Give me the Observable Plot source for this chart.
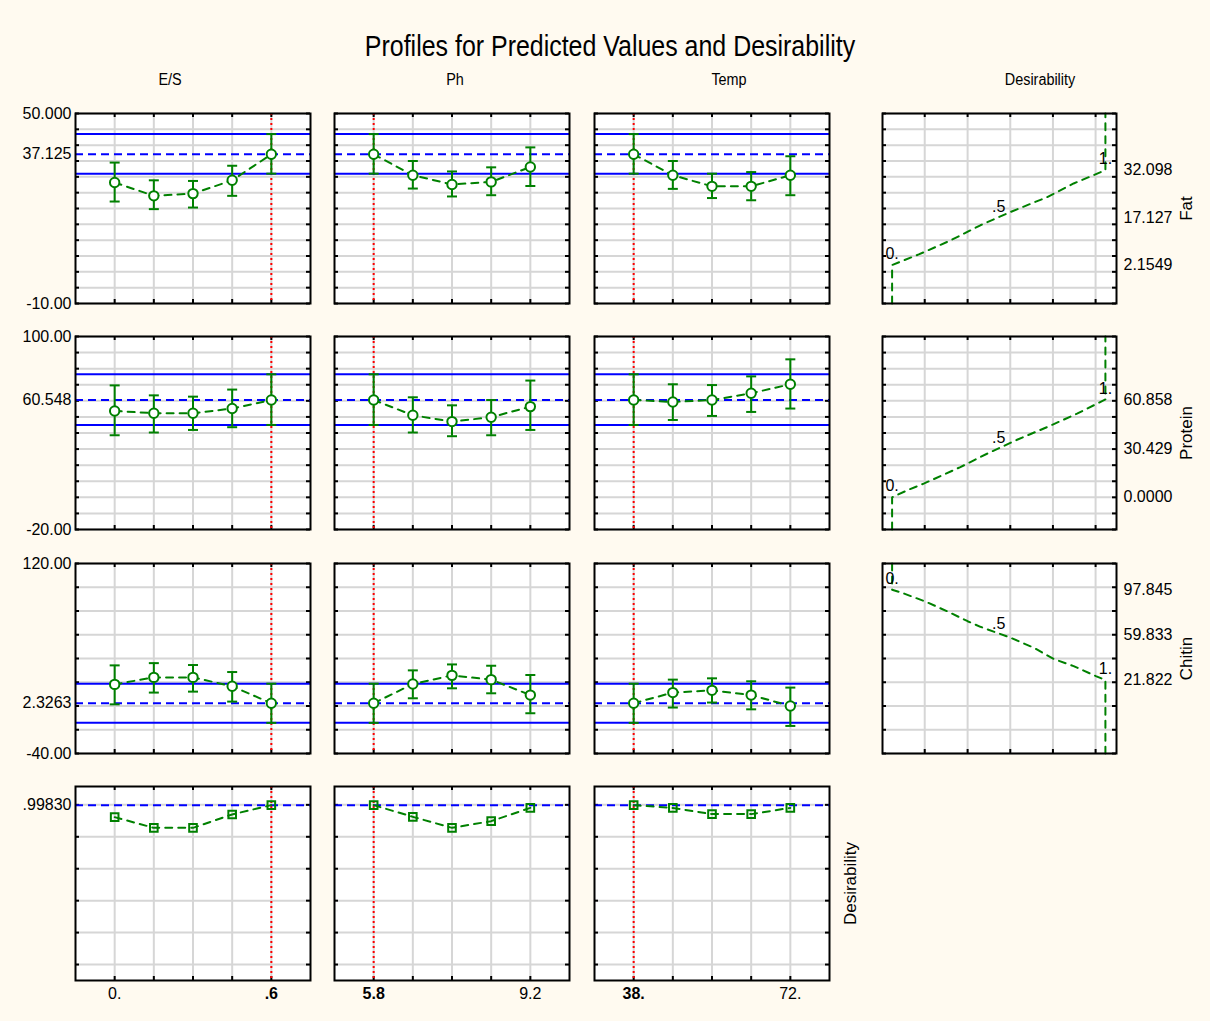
<!DOCTYPE html>
<html>
<head>
<meta charset="utf-8">
<script src="https://cdn.jsdelivr.net/npm/d3@7"></script>
<script src="https://cdn.jsdelivr.net/npm/@observablehq/plot@0.6"></script>
<style>
  body { margin: 0; background: #fffaf0; }
  #root { position: relative; width: 1210px; height: 1021px; background: #fffaf0; overflow: hidden;
          font-family: "Liberation Sans", Arial, sans-serif; color: #000; }
  .lbl { position: absolute; white-space: nowrap; line-height: 1; }
  .cell { position: absolute; }
  .cell svg { overflow: visible; }
</style>
</head>
<body>
<div id="root"></div>
<script>
// ---------------- DATA ----------------
const titleText = "Profiles for Predicted Values and Desirability";
const factorNames = ["E/S", "Ph", "Temp"];
const responseNames = ["Fat", "Protein", "Chitin"];

const esLevels = [0, 0.15, 0.3, 0.45, 0.6];
const phLevels = [5.8, 6.65, 7.5, 8.35, 9.2];
const tempLevels = [38, 46.5, 55, 63.5, 72];
const currentSettings = [0.6, 5.8, 38];
const xEndLabels = [["0.", ".6"], ["5.8", "9.2"], ["38.", "72."]];

// predicted values with confidence limits, one row per factor (E/S, Ph, Temp)
const fatPred = [[28.2, 24.0, 24.7, 28.9, 37.125], [37.125, 30.5, 27.6, 28.4, 33.1], [37.125, 30.5, 27.0, 27.0, 30.5]];
const fatLow  = [[22.2, 19.8, 20.3, 24.0, 31.0], [31.0, 26.3, 23.8, 24.2, 27.1], [31.0, 26.2, 23.3, 22.6, 24.2]];
const fatHigh = [[34.5, 28.9, 28.7, 33.5, 43.5], [43.5, 35.0, 31.7, 33.0, 39.3], [43.5, 35.0, 31.0, 31.5, 36.5]];

const proteinPred = [[53.7, 52.3, 52.3, 55.2, 60.548], [60.548, 51.0, 47.1, 49.8, 56.4], [60.548, 59.3, 60.5, 64.7, 70.3]];
const proteinLow  = [[38.6, 40.3, 41.9, 43.6, 45.0], [45.0, 40.3, 38.0, 38.6, 41.9], [45.0, 48.1, 50.6, 53.1, 55.2]];
const proteinHigh = [[69.6, 63.4, 62.6, 67.0, 76.5], [76.5, 62.2, 57.2, 60.5, 72.6], [76.5, 70.3, 69.8, 75.2, 85.8]];

const chitinPred = [[18.2, 24.1, 24.1, 16.6, 2.3263], [2.3263, 18.5, 25.8, 22.2, 9.2], [2.3263, 11.3, 13.2, 9.2, 0.0]];
const chitinLow  = [[1.4, 11.3, 12.1, 3.7, -14.2], [-14.2, 6.5, 14.9, 10.7, -6.1], [-14.2, -1.3, 2.9, -2.8, -16.8]];
const chitinHigh = [[34.2, 36.1, 34.5, 28.6, 18.8], [18.8, 30.0, 35.0, 33.9, 26.1], [18.8, 22.2, 23.3, 20.8, 15.5]];

const currentPred = [37.125, 60.548, 2.3263];
const currentLow = [31.0, 45.0, -14.2];
const currentHigh = [43.5, 76.5, 18.8];
const predTickLabels = ["37.125", "60.548", "2.3263"];
const yDomains = [[-10, 50], [-20, 100], [-40, 120]];
const yGridSteps = [5, 10, 20];
const yMaxLabels = ["50.000", "100.00", "120.00"];
const yMinLabels = ["-10.00", "-20.00", "-40.00"];

// overall desirability profiles
const desES = [0.923, 0.856, 0.856, 0.940, 0.9983];
const desPh = [0.9983, 0.925, 0.856, 0.898, 0.981];
const desTemp = [0.9983, 0.981, 0.942, 0.942, 0.981];
const desCurrent = 0.9983;
const desCurrentLabel = ".99830";
const desDomain = [-0.1, 1.115];
const desGrid = [0, 0.2, 0.4, 0.6, 0.8, 1.0];

// desirability functions (x = desirability, y = response)
const fatCurveD = [0, 0, 0.125, 0.273, 0.414, 0.555, 0.727, 0.851, 1, 1];
const fatCurveY = [-10, 2.1549, 5.5, 9.9, 14.7, 18.9, 23.6, 27.9, 32.098, 50];
const proteinCurveD = [0, 0, 0.078, 0.148, 0.32, 0.445, 0.586, 0.727, 0.867, 1, 1];
const proteinCurveY = [-20, 0.0, 4.8, 8.5, 18.8, 27.1, 35.8, 43.7, 52.0, 60.858, 100];
const chitinCurveD = [0, 0, 0.039, 0.153, 0.258, 0.354, 0.414, 0.555, 0.664, 0.755, 0.851, 0.955, 1, 1];
const chitinCurveY = [120, 97.845, 95.8, 88.2, 79.8, 71.4, 66.7, 57.5, 49.1, 39.8, 33.6, 25.2, 21.822, -40];

const fatDesY = [2.1549, 17.127, 32.098];
const proteinDesY = [0.0, 30.429, 60.858];
const chitinDesY = [97.845, 59.833, 21.822];
const desRightLabels = [["2.1549", "17.127", "32.098"], ["0.0000", "30.429", "60.858"], ["97.845", "59.833", "21.822"]];
const desLabelD = [0, 0.5, 1];
const desLabelText = ["0.", ".5", "1."];
const desXDomain = [-0.045, 1.052];
const desXGrid = [0.153, 0.354, 0.554, 0.754, 0.954];

// ---------------- LAYOUT ----------------
const FONT = '"Liberation Sans", Arial, sans-serif';
const GREEN = "#008000", BLUE = "#0000ff", RED = "#ff0000", GRID = "#d6d6d6";
const colX = [75, 334, 594, 882];
const colW = [235, 235, 235, 234];
const rowY = [113, 336, 563, 786];
const rowH = [190, 193, 190, 194];
const ML = 90, MR = 110, MT = 20, MB = 40;

const root = document.getElementById("root");
const levels = [esLevels, phLevels, tempLevels];
const preds = [fatPred, proteinPred, chitinPred];
const lows = [fatLow, proteinLow, chitinLow];
const highs = [fatHigh, proteinHigh, chitinHigh];
const desProfiles = [desES, desPh, desTemp];
const curvesD = [fatCurveD, proteinCurveD, chitinCurveD];
const curvesY = [fatCurveY, proteinCurveY, chitinCurveY];
const desYs = [fatDesY, proteinDesY, chitinDesY];

const capSymbol = { draw(ctx) { ctx.moveTo(-5, 0); ctx.lineTo(5, 0); } };

function xDomainOf(lv) {
  const step = lv[1] - lv[0];
  return [lv[0] - step, lv[lv.length - 1] + step];
}

function addLabel(text, x, y, size, scale = 1, weight = "normal") {
  const d = document.createElement("div");
  d.className = "lbl";
  d.textContent = text;
  d.style.left = x + "px";
  d.style.top = y + "px";
  d.style.fontSize = size + "px";
  d.style.fontWeight = weight;
  d.style.transform = `translate(-50%,-50%) scaleX(${scale})`;
  root.appendChild(d);
}

function place(svg, c, r) {
  const d = document.createElement("div");
  d.className = "cell";
  d.style.left = (colX[c] - ML) + "px";
  d.style.top = (rowY[r] - MT) + "px";
  d.style.width = (colW[c] + ML + MR) + "px";
  d.style.height = (rowH[r] + MT + MB) + "px";
  d.appendChild(svg);
  root.appendChild(d);
}

function base(c, r, xDomain, yDomain, marks) {
  return Plot.plot({
    width: colW[c] + ML + MR,
    height: rowH[r] + MT + MB,
    marginLeft: ML, marginRight: MR, marginTop: MT, marginBottom: MB,
    x: { type: "linear", domain: xDomain, axis: null },
    y: { type: "linear", domain: yDomain, axis: null },
    style: { background: "transparent", overflow: "visible", fontFamily: FONT, color: "black" },
    marks
  });
}

function gridMarks(c, r, xGrid, yGrid) {
  const w = colW[c], h = rowH[r];
  return [
    Plot.frame({ fill: "white", stroke: "none" }),
    Plot.ruleX(xGrid, { stroke: GRID, strokeWidth: 2 }),
    Plot.ruleY(yGrid, { stroke: GRID, strokeWidth: 2 }),
    Plot.tickY(yGrid, { stroke: "black", strokeWidth: 2, insetRight: w - 4 }),
    Plot.tickY(yGrid, { stroke: "black", strokeWidth: 2, insetLeft: w - 4 }),
    Plot.tickX(xGrid, { stroke: "black", strokeWidth: 2, insetBottom: h - 4 }),
    Plot.tickX(xGrid, { stroke: "black", strokeWidth: 2, insetTop: h - 4 })
  ];
}

// ---------------- RESPONSE PROFILE PANELS ----------------
for (let r = 0; r < 3; r++) {
  const yGrid = d3.range(yDomains[r][0], yDomains[r][1] + 1e-9, yGridSteps[r]);
  for (let c = 0; c < 3; c++) {
    const lv = levels[c];
    const data = lv.map((x, i) => ({ x, y: preds[r][c][i], lo: lows[r][c][i], hi: highs[r][c][i] }));
    const marks = [
      ...gridMarks(c, r, lv, yGrid),
      Plot.ruleX([currentSettings[c]], { stroke: RED, strokeWidth: 2, strokeDasharray: "2,3" }),
      Plot.ruleY([currentLow[r], currentHigh[r]], { stroke: BLUE, strokeWidth: 2 }),
      Plot.ruleY([currentPred[r]], { stroke: BLUE, strokeWidth: 2, strokeDasharray: "8,5" }),
      Plot.line(data, { x: "x", y: "y", stroke: GREEN, strokeWidth: 2, strokeDasharray: "7,6" }),
      Plot.ruleX(data, { x: "x", y1: "lo", y2: "hi", stroke: GREEN, strokeWidth: 2 }),
      Plot.dot(data, { x: "x", y: "lo", symbol: capSymbol, stroke: GREEN, strokeWidth: 2, fill: "none" }),
      Plot.dot(data, { x: "x", y: "hi", symbol: capSymbol, stroke: GREEN, strokeWidth: 2, fill: "none" }),
      Plot.dot(data, { x: "x", y: "y", r: 4.7, stroke: GREEN, strokeWidth: 2, fill: "white" }),
      Plot.frame({ stroke: "black", strokeWidth: 2 })
    ];
    if (c === 0) {
      marks.push(Plot.text([yMaxLabels[r], predTickLabels[r], yMinLabels[r]], {
        y: [yDomains[r][1], currentPred[r], yDomains[r][0]], text: d => d,
        frameAnchor: "left", dx: -4, textAnchor: "end", fontSize: 16, fill: "black"
      }));
    }
    place(base(c, r, xDomainOf(lv), yDomains[r], marks), c, r);
  }

  // desirability function panel
  const c = 3;
  const curve = curvesD[r].map((d, i) => ({ d, y: curvesY[r][i] }));
  const marks = [
    ...gridMarks(c, r, desXGrid, yGrid),
    Plot.line(curve, { x: "d", y: "y", stroke: GREEN, strokeWidth: 2, strokeDasharray: "7,6" }),
    Plot.frame({ stroke: "black", strokeWidth: 2 }),
    Plot.text(desLabelText, { x: desLabelD, y: desYs[r], text: d => d, dy: -11, fontSize: 16, fill: "black" }),
    Plot.text(desRightLabels[r], { y: desYs[r], text: d => d, frameAnchor: "right", dx: 7, textAnchor: "start", fontSize: 16, fill: "black" }),
    Plot.text([responseNames[r]], { text: d => d, frameAnchor: "right", dx: 70, rotate: -90, textAnchor: "middle", fontSize: 17, fill: "black" })
  ];
  place(base(c, r, desXDomain, yDomains[r], marks), c, r);
}

// ---------------- OVERALL DESIRABILITY ROW ----------------
for (let c = 0; c < 3; c++) {
  const r = 3;
  const lv = levels[c];
  const data = lv.map((x, i) => ({ x, y: desProfiles[c][i] }));
  const marks = [
    ...gridMarks(c, r, lv, desGrid),
    Plot.ruleX([currentSettings[c]], { stroke: RED, strokeWidth: 2, strokeDasharray: "2,3" }),
    Plot.ruleY([desCurrent], { stroke: BLUE, strokeWidth: 2, strokeDasharray: "8,5" }),
    Plot.line(data, { x: "x", y: "y", stroke: GREEN, strokeWidth: 2, strokeDasharray: "7,6" }),
    Plot.dot(data, { x: "x", y: "y", symbol: "square", r: 4.3, stroke: GREEN, strokeWidth: 2, fill: "none" }),
    Plot.frame({ stroke: "black", strokeWidth: 2 })
  ];
  const ends = [lv[0], lv[lv.length - 1]];
  ends.forEach((v, i) => {
    marks.push(Plot.text([xEndLabels[c][i]], {
      x: [v], text: d => d, frameAnchor: "bottom", dy: 18, fontSize: 16, fill: "black",
      fontWeight: v === currentSettings[c] ? "bold" : "normal"
    }));
  });
  if (c === 0) {
    marks.push(Plot.text([desCurrentLabel], {
      y: [desCurrent], text: d => d, frameAnchor: "left", dx: -4, textAnchor: "end", fontSize: 16, fill: "black"
    }));
  }
  if (c === 2) {
    marks.push(Plot.text(["Desirability"], {
      text: d => d, frameAnchor: "right", dx: 21, rotate: -90, textAnchor: "middle", fontSize: 17, fill: "black"
    }));
  }
  place(base(c, r, xDomainOf(lv), desDomain, marks), c, r);
}

// ---------------- TITLES ----------------
addLabel(titleText, 610, 46, 29, 0.86);
const headerX = [170, 455, 729, 1040];
[...factorNames, "Desirability"].forEach((t, i) => addLabel(t, headerX[i], 80, 16, 0.9));
</script>
</body>
</html>
